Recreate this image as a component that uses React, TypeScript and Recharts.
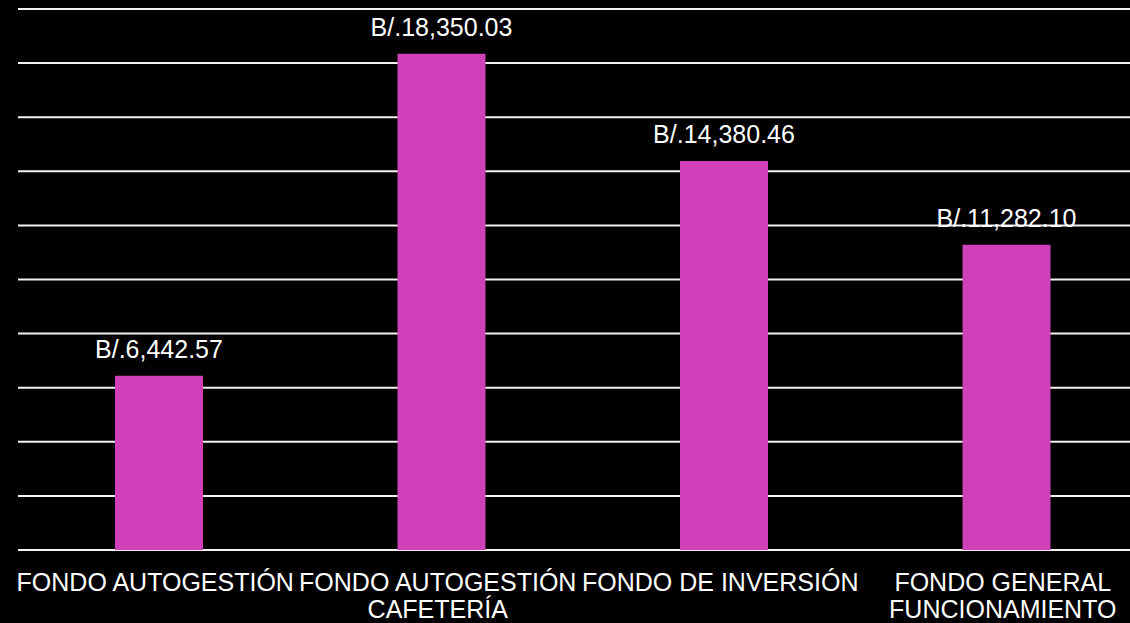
import { BarChart, Bar, XAxis, YAxis, CartesianGrid, LabelList } from 'recharts'

const categories = [
  'FONDO AUTOGESTIÓN',
  'FONDO AUTOGESTIÓN CAFETERÍA',
  'FONDO DE INVERSIÓN',
  'FONDO GENERAL FUNCIONAMIENTO',
]
const amounts = [6442.57, 18350.03, 14380.46, 11282.1]
const yTicks = [0, 2000, 4000, 6000, 8000, 10000, 12000, 14000, 16000, 18000, 20000]

const data = categories.map((name, i) => ({ name, amount: amounts[i] }))

const FONT = '"Liberation Sans", Arial, Helvetica, sans-serif'
const TICK_SIZE = 25

const formatMoney = (v: any) =>
  typeof v === 'number'
    ? `B/.${v.toLocaleString('en-US', { minimumFractionDigits: 2, maximumFractionDigits: 2 })}`
    : String(v ?? '')

let ctx: CanvasRenderingContext2D | null = null
function measure(s: string) {
  if (!ctx) ctx = document.createElement('canvas').getContext('2d')
  if (!ctx) return s.length * TICK_SIZE * 0.6
  ctx.font = `${TICK_SIZE}px ${FONT}`
  return ctx.measureText(s).width
}

// greedy word wrap to fit a category band
function wrap(label: string, maxWidth: number) {
  const lines: string[] = []
  let cur = ''
  for (const w of label.split(' ')) {
    const next = cur ? `${cur} ${w}` : w
    if (cur && measure(next) > maxWidth) {
      lines.push(cur)
      cur = w
    } else {
      cur = next
    }
  }
  if (cur) lines.push(cur)
  return lines
}

function CategoryTick(props: any) {
  const { x, y, payload } = props
  const lines = wrap(String(payload.value), 282)
  return (
    <text
      x={x - 4}
      y={y}
      textAnchor="middle"
      fill="#ffffff"
      fontSize={TICK_SIZE}
      fontFamily={FONT}
    >
      {lines.map((l, i) => (
        <tspan key={i} x={x - 4} dy={i === 0 ? 18 : 27}>
          {l}
        </tspan>
      ))}
    </text>
  )
}

export default function App() {
  return (
    <div
      style={{
        position: 'absolute',
        left: 0,
        top: 0,
        width: 1130,
        height: 623,
        overflow: 'hidden',
        background: '#000000',
      }}
    >
      <BarChart
        width={1150}
        height={623}
        data={data}
        margin={{ top: 9, right: 2, bottom: 0, left: 18 }}
      >
        <CartesianGrid vertical={false} stroke="#f2f2f2" strokeWidth={2} />
        <XAxis
          dataKey="name"
          height={73}
          axisLine={false}
          tickLine={false}
          tickMargin={17}
          interval={0}
          tick={<CategoryTick />}
        />
        <YAxis hide domain={[0, 20000]} ticks={yTicks} />
        <Bar dataKey="amount" fill="#d040b8" barSize={88} isAnimationActive={false}>
          <LabelList
            dataKey="amount"
            position="top"
            offset={18}
            formatter={formatMoney}
            fill="#ffffff"
            fontSize={25}
            fontFamily={FONT}
          />
        </Bar>
      </BarChart>
    </div>
  )
}
